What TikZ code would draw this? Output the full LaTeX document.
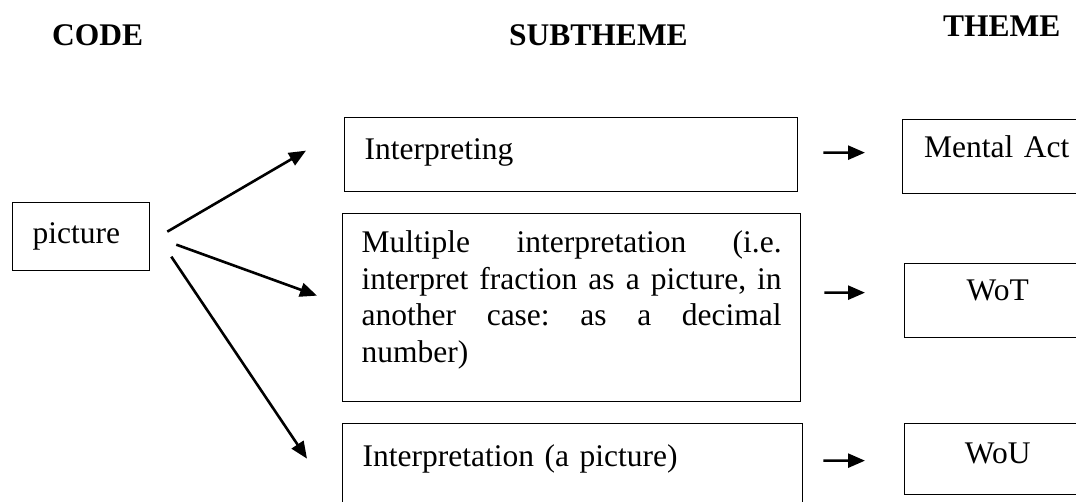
\documentclass[tikz,border=0pt]{standalone}
\usepackage{fontspec}
\setmainfont{Liberation Serif}
\usetikzlibrary{arrows.meta}
\hyphenpenalty=10000
\tolerance=10000
\frenchspacing

\begin{document}
\begin{tikzpicture}[x=1bp, y=-1bp, font=\fontsize{31.5bp}{36.5bp}\selectfont,
	b/.style={draw, line width=1.3bp, inner ysep=0pt, inner xsep=20bp, anchor=north west},
	h/.style={font=\fontsize{31.5bp}{36.5bp}\selectfont\bfseries, inner sep=0pt, anchor=base west},
	arr/.style={line width=2.6bp, -{Triangle[length=17bp, width=14bp]}}]
	\useasboundingbox (0,0) rectangle (1076,502);
	\clip (0,0) rectangle (1076,502);

	\node[h] (code) at (52,46) {CODE};
	\node[h] (sub) at (509,46) {SUBTHEME};
	\node[h] (thm) at (943,37) {THEME};

	\node[b, text width=97bp, align=left, text height=41bp, text depth=27bp] (pic) at (12,202) {picture};
	\node[b, text width=413bp, align=left, text height=42bp, text depth=32bp] (interp) at (344,117) {Interpreting};
	\node[b, inner xsep=19bp, text width=420bp, align=justify, text height=39bp, text depth=149bp] (multi) at (342,213) {\frenchspacing Multiple interpretation (i.e.\linebreak interpret fraction as a picture, in\linebreak another case: as a decimal\linebreak number)};
	\node[b, text width=420bp, align=left, text height=43bp, text depth=49bp] (interpic) at (342,423) {Interpretation (a picture)};
	\node[b, text width=148bp, align=center, text height=38bp, text depth=36bp] (mental) at (902,119) {Mental Act};
	\node[b, text width=146bp, align=center, text height=37bp, text depth=37bp] (wot) at (904,263) {WoT};
	\node[b, text width=146bp, align=center, text height=40bp, text depth=31bp] (wou) at (904,423) {WoU};

	\draw[arr] ([xshift=17bp, yshift=5bp]pic.east) -- ([xshift=-38bp, yshift=4bp]interp.west);
	\draw[arr] ([xshift=26bp, yshift=-8bp]pic.east) -- ([xshift=-25bp, yshift=12bp]multi.west);
	\draw[arr] ([xshift=21bp, yshift=-20bp]pic.east) -- ([xshift=-35bp, yshift=11bp]interpic.west);

	\draw[arr] ([xshift=25bp, yshift=2bp]interp.east) -- ([xshift=-37bp, yshift=4bp]mental.west);
	\draw[arr] ([xshift=23bp, yshift=15bp]multi.east) -- ([xshift=-39bp, yshift=8bp]wot.west);
	\draw[arr] ([xshift=20bp, yshift=9bp]interpic.east) -- ([xshift=-39bp, yshift=-1.5bp]wou.west);
\end{tikzpicture}
\end{document}
